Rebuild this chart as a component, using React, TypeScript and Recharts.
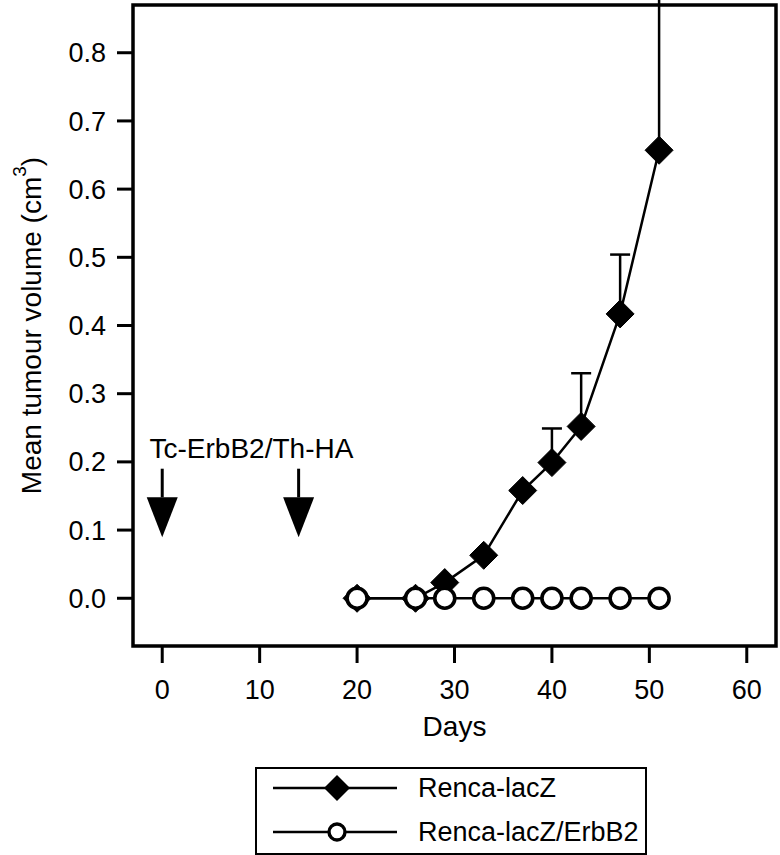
import React from "react";
import {
  ErrorBar,
  Legend,
  Line,
  LineChart,
  ReferenceArea,
  ReferenceDot,
  ReferenceLine,
  XAxis,
  YAxis,
} from "recharts";

const DAYS = [20, 26, 29, 33, 37, 40, 43, 47, 51];
const LACZ = [0, 0, 0.023, 0.063, 0.158, 0.199, 0.252, 0.417, 0.657];
// upper error only (T-bars); the last one runs off the top of the plot
const LACZ_ERR_UP = [0, 0, 0, 0, 0, 0.05, 0.078, 0.087, 0.3];
const ERBB2 = [0, 0, 0, 0, 0, 0, 0, 0, 0];

const X_TICKS = [0, 10, 20, 30, 40, 50, 60];
const Y_TICKS = [0, 0.1, 0.2, 0.3, 0.4, 0.5, 0.6, 0.7, 0.8];

const X_DOMAIN = [-3, 63];
const Y_DOMAIN = [-0.07, 0.87];

// vaccination arrows (day) and where the annotation sits
const ARROW_DAYS = [0, 14];
const ARROW_TOP = 0.19;
const ARROW_HEAD = 0.148;
const ANNOTATION = { day: -1.3, value: 0.206, text: "Tc-ErbB2/Th-HA" };

const data = DAYS.map((d, i) => ({
  day: d,
  lacZ: LACZ[i],
  lacZErr: [0, LACZ_ERR_UP[i]],
  erbb2: ERBB2[i],
}));

const FONT = "'Liberation Sans', Arial, Helvetica, sans-serif";

const Diamond = (props: any) => {
  const { cx, cy } = props;
  const h = 14;
  if (cx == null || cy == null) return null;
  return (
    <polygon
      points={`${cx},${cy - h} ${cx + h},${cy} ${cx},${cy + h} ${cx - h},${cy}`}
      fill="#000"
      stroke="#000"
      strokeWidth={1}
    />
  );
};

const OpenCircle = (props: any) => {
  const { cx, cy } = props;
  if (cx == null || cy == null) return null;
  return <circle cx={cx} cy={cy} r={10} fill="#fff" stroke="#000" strokeWidth={3.6} />;
};

const ArrowHead = (props: any) => {
  const { cx, cy } = props;
  return (
    <polygon
      points={`${cx - 15.5},${cy} ${cx + 15.5},${cy} ${cx},${cy + 40}`}
      fill="#000"
    />
  );
};

const AnnotationText = (props: any) => {
  const { cx, cy } = props;
  return (
    <text x={cx} y={cy} fontFamily={FONT} fontSize={28} fill="#000">
      {ANNOTATION.text}
    </text>
  );
};

const YLabel = (props: any) => {
  const { viewBox } = props;
  const cx = viewBox.x + 31;
  const cy = viewBox.y + viewBox.height / 2;
  return (
    <text
      x={cx}
      y={cy}
      transform={`rotate(-90, ${cx}, ${cy})`}
      textAnchor="middle"
      dominantBaseline="central"
      fontFamily={FONT}
      fontSize={28}
      fill="#000"
    >
      Mean tumour volume (cm
      <tspan dy={-12} fontSize={19}>
        3
      </tspan>
      <tspan dy={12}>)</tspan>
    </text>
  );
};

const XLabel = (props: any) => {
  const { viewBox } = props;
  return (
    <text
      x={viewBox.x + viewBox.width / 2}
      y={viewBox.y + 90}
      textAnchor="middle"
      fontFamily={FONT}
      fontSize={28}
      fill="#000"
    >
      Days
    </text>
  );
};

const renderLegend = (props: any) => {
  const { payload = [] } = props;
  return (
    <svg width={392} height={88} style={{ display: "block" }}>
      <rect x={1} y={1} width={390} height={86} fill="#fff" stroke="#000" strokeWidth={2} />
      {payload.map((entry: any, i: number) => {
        const y = 21 + i * 44;
        return (
          <g key={`leg-${i}`}>
            <line x1={18} y1={y} x2={142} y2={y} stroke="#000" strokeWidth={2.5} />
            {entry.dataKey === "lacZ" ? (
              <polygon
                points={`82,${y - 13} 95,${y} 82,${y + 13} 69,${y}`}
                fill="#000"
              />
            ) : (
              <circle cx={82} cy={y} r={8} fill="#fff" stroke="#000" strokeWidth={3.4} />
            )}
            <text
              x={163}
              y={y}
              dominantBaseline="central"
              fontFamily={FONT}
              fontSize={27}
              fill="#000"
            >
              {entry.value}
            </text>
          </g>
        );
      })}
    </svg>
  );
};

const tickStyle = { fontFamily: FONT, fontSize: 27, fill: "#000" };

export default function App() {
  return (
    <div style={{ position: "absolute", left: 0, top: 0, background: "#fff" }}>
      <LineChart
        width={780}
        height={855}
        data={data}
        margin={{ top: 5, right: 4, left: 0, bottom: 109 }}
      >
        <XAxis
          dataKey="day"
          type="number"
          domain={X_DOMAIN}
          ticks={X_TICKS}
          allowDataOverflow
          axisLine={false}
          tickLine={{ stroke: "#000", strokeWidth: 3 }}
          tickSize={17}
          tickMargin={17}
          tick={tickStyle}
          height={100}
          label={{ content: XLabel }}
        />
        <YAxis
          type="number"
          domain={Y_DOMAIN}
          ticks={Y_TICKS}
          allowDataOverflow
          axisLine={false}
          tickLine={{ stroke: "#000", strokeWidth: 3 }}
          tickSize={16}
          tickMargin={11}
          tick={tickStyle}
          tickFormatter={(v: number) => v.toFixed(1)}
          width={133}
          label={{ content: YLabel }}
        />
        <ReferenceArea
          x1={X_DOMAIN[0]}
          x2={X_DOMAIN[1]}
          y1={Y_DOMAIN[0]}
          y2={Y_DOMAIN[1]}
          fill="none"
          stroke="#000"
          strokeWidth={3.5}
          ifOverflow="visible"
        />
        {ARROW_DAYS.map((d) => (
          <ReferenceLine
            key={`shaft-${d}`}
            segment={[
              { x: d, y: ARROW_TOP },
              { x: d, y: ARROW_HEAD },
            ]}
            stroke="#000"
            strokeWidth={3}
          />
        ))}
        {ARROW_DAYS.map((d) => (
          <ReferenceDot key={`head-${d}`} x={d} y={ARROW_HEAD} shape={ArrowHead} />
        ))}
        <ReferenceDot x={ANNOTATION.day} y={ANNOTATION.value} shape={AnnotationText} />
        <Line
          dataKey="lacZ"
          name="Renca-lacZ"
          type="linear"
          stroke="#000"
          strokeWidth={2.5}
          dot={<Diamond />}
          activeDot={false}
          isAnimationActive={false}
        >
          <ErrorBar
            dataKey="lacZErr"
            direction="y"
            width={10}
            stroke="#000"
            strokeWidth={2.5}
            isAnimationActive={false}
          />
        </Line>
        <Line
          dataKey="erbb2"
          name="Renca-lacZ/ErbB2"
          type="linear"
          stroke="#000"
          strokeWidth={2.5}
          dot={<OpenCircle />}
          activeDot={false}
          isAnimationActive={false}
        />
        <Legend
          layout="vertical"
          align="center"
          verticalAlign="middle"
          content={renderLegend}
          wrapperStyle={{ left: 255, top: 767, width: 392, height: 88 }}
        />
      </LineChart>
    </div>
  );
}
